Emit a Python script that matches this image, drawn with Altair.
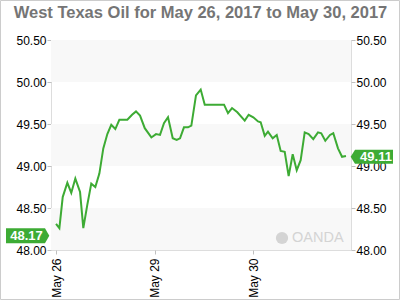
import altair as alt
import pandas as pd

# ---- data ----
day = [0.000, 0.034, 0.068, 0.115, 0.155, 0.196, 0.244, 0.277, 0.318, 0.358,
       0.399, 0.440, 0.480, 0.521, 0.561, 0.602, 0.643, 0.724, 0.772, 0.812,
       0.853, 0.901, 0.968, 1.015, 1.056, 1.096, 1.137, 1.185, 1.225, 1.259,
       1.299, 1.340, 1.374, 1.421, 1.469, 1.510, 1.706, 1.746, 1.787, 1.841,
       1.916, 1.956, 2.003, 2.051, 2.078, 2.119, 2.152, 2.200, 2.241, 2.281,
       2.322, 2.362, 2.403, 2.444, 2.484, 2.525, 2.565, 2.612, 2.660, 2.693,
       2.734, 2.782, 2.815, 2.863, 2.904, 2.944]
price = [48.31, 48.26, 48.63, 48.80, 48.68, 48.85, 48.69, 48.26, 48.54, 48.79,
         48.75, 48.91, 49.21, 49.38, 49.49, 49.44, 49.55, 49.55, 49.61, 49.65,
         49.60, 49.45, 49.34, 49.38, 49.37, 49.51, 49.58, 49.33, 49.31, 49.33,
         49.46, 49.46, 49.48, 49.84, 49.91, 49.73, 49.73, 49.63, 49.69, 49.64,
         49.54, 49.61, 49.58, 49.53, 49.52, 49.36, 49.41, 49.33, 49.37, 49.18,
         49.17, 48.88, 49.14, 48.95, 49.07, 49.40, 49.38, 49.32, 49.40, 49.39,
         49.30, 49.37, 49.39, 49.21, 49.11, 49.12]
tick_values = [0, 1, 2]
tick_labels = ["May 26", "May 29", "May 30"]
y_ticks = [48.0, 48.5, 49.0, 49.5, 50.0, 50.5]
band_lo = [48.0, 49.0, 50.0]
band_hi = [48.5, 49.5, 50.5]
open_price = [48.17]
last_price = [49.11]
title_text = ["West Texas Oil for May 26, 2017 to May 30, 2017"]
watermark = ["OANDA"]

GREEN = "#3dab34"
FONT = "Liberation Sans"

line_df = pd.DataFrame({"day": day, "price": price})
band_df = pd.DataFrame({"lo": band_lo, "hi": band_hi})
left_df = pd.DataFrame({"price": open_price, "txt": [f"{v:.2f}" for v in open_price]})
right_df = pd.DataFrame({"price": last_price, "txt": [f"{v:.2f}" for v in last_price]})
wm_df = pd.DataFrame({"txt": watermark})
title_df = pd.DataFrame({"txt": title_text})

yscale = alt.Scale(domain=[48.0, 50.5], nice=False, zero=False)
xscale = alt.Scale(domain=[-0.051, 2.995], nice=False, zero=False)

label_expr = " : ".join(f"datum.value == {v} ? '{l}'" for v, l in zip(tick_values, tick_labels)) + " : ''"

yaxis_common = dict(values=y_ticks, format=".2f", grid=False, domain=False,
                    tickSize=4, tickColor="#c0c0c0", labelFontSize=12,
                    labelFont=FONT, labelColor="#000000", labelPadding=1,
                    labelBaseline="middle")

frame = alt.Chart(wm_df).mark_rect(fillOpacity=0, stroke="#cccccc", strokeWidth=1).encode(
    x=alt.value(-50.5), x2=alt.value(348.5), y=alt.value(-39.5), y2=alt.value(259.5))

title = alt.Chart(title_df).mark_text(color="#757575", fontSize=16.5, fontWeight="bold",
                                      font=FONT, align="center", baseline="alphabetic").encode(
    x=alt.value(149.5), y=alt.value(-22.5), text="txt:N")

bands = alt.Chart(band_df).mark_rect(color="#f8f8f8").encode(
    y=alt.Y("lo:Q", scale=yscale, title=None, axis=alt.Axis(orient="left", **yaxis_common)),
    y2="hi:Q",
    x=alt.value(0), x2=alt.value(300))

line = alt.Chart(line_df).mark_line(color=GREEN, strokeWidth=2).encode(
    x=alt.X("day:Q", scale=xscale, title=None,
            axis=alt.Axis(values=tick_values, labelExpr=label_expr, labelAngle=270,
                          labelAlign="right", labelBaseline="middle", labelPadding=4,
                          tickSize=4, tickColor="#c0c0c0", domain=False, grid=False,
                          labelFontSize=12, labelFont=FONT, labelColor="#000000")),
    y=alt.Y("price:Q", scale=yscale, title=None, axis=alt.Axis(orient="right", **yaxis_common)))

LEFT_PATH = "M-1,-0.38L1,-0.38L1.22,0L1,0.38L-1,0.38Z"
RIGHT_PATH = "M-1.23,0L-1,-0.37L1,-0.37L1,0.37L-1,0.37Z"

left_box = alt.Chart(left_df).mark_point(shape=LEFT_PATH, filled=True, fill=GREEN,
                                         opacity=1, size=4 * 19.5 ** 2, strokeWidth=0).encode(
    x=alt.value(-25.5), y=alt.Y("price:Q", scale=yscale, axis=None))
left_txt = alt.Chart(left_df).mark_text(color="white", fontWeight="bold", fontSize=13,
                                        font=FONT, align="center", baseline="middle").encode(
    x=alt.value(-24.5), y=alt.Y("price:Q", scale=yscale, axis=None), text="txt:N")

right_box = alt.Chart(right_df).mark_point(shape=RIGHT_PATH, filled=True, fill=GREEN,
                                           opacity=1, size=4 * 19 ** 2, strokeWidth=0).encode(
    x=alt.value(323), y=alt.Y("price:Q", scale=yscale, axis=None))
right_txt = alt.Chart(right_df).mark_text(color="white", fontWeight="bold", fontSize=13,
                                          font=FONT, align="center", baseline="middle").encode(
    x=alt.value(325), y=alt.Y("price:Q", scale=yscale, axis=None), text="txt:N")

wm_logo = alt.Chart(wm_df).mark_point(shape="circle", filled=True, fill="#d4d4d4",
                                      opacity=1, size=150, strokeWidth=0).encode(
    x=alt.value(231), y=alt.value(198))
wm_text = alt.Chart(wm_df).mark_text(color="#d4d4d4", fontSize=14.5, font=FONT,
                                     align="left", baseline="middle").encode(
    x=alt.value(241), y=alt.value(198), text="txt:N")

chart = alt.layer(frame, title, bands, wm_logo, wm_text, line, left_box, left_txt,
                  right_box, right_txt).resolve_axis(y="independent").properties(
    width=300, height=210,
    padding={"left": 51, "top": 40, "right": 49, "bottom": 50},
    autosize=alt.AutoSizeParams(type="none"),
).configure_view(stroke="#cccccc", strokeWidth=1).configure(background="white")

chart.save("out.html", embed_options={"renderer": "svg", "actions": False})
